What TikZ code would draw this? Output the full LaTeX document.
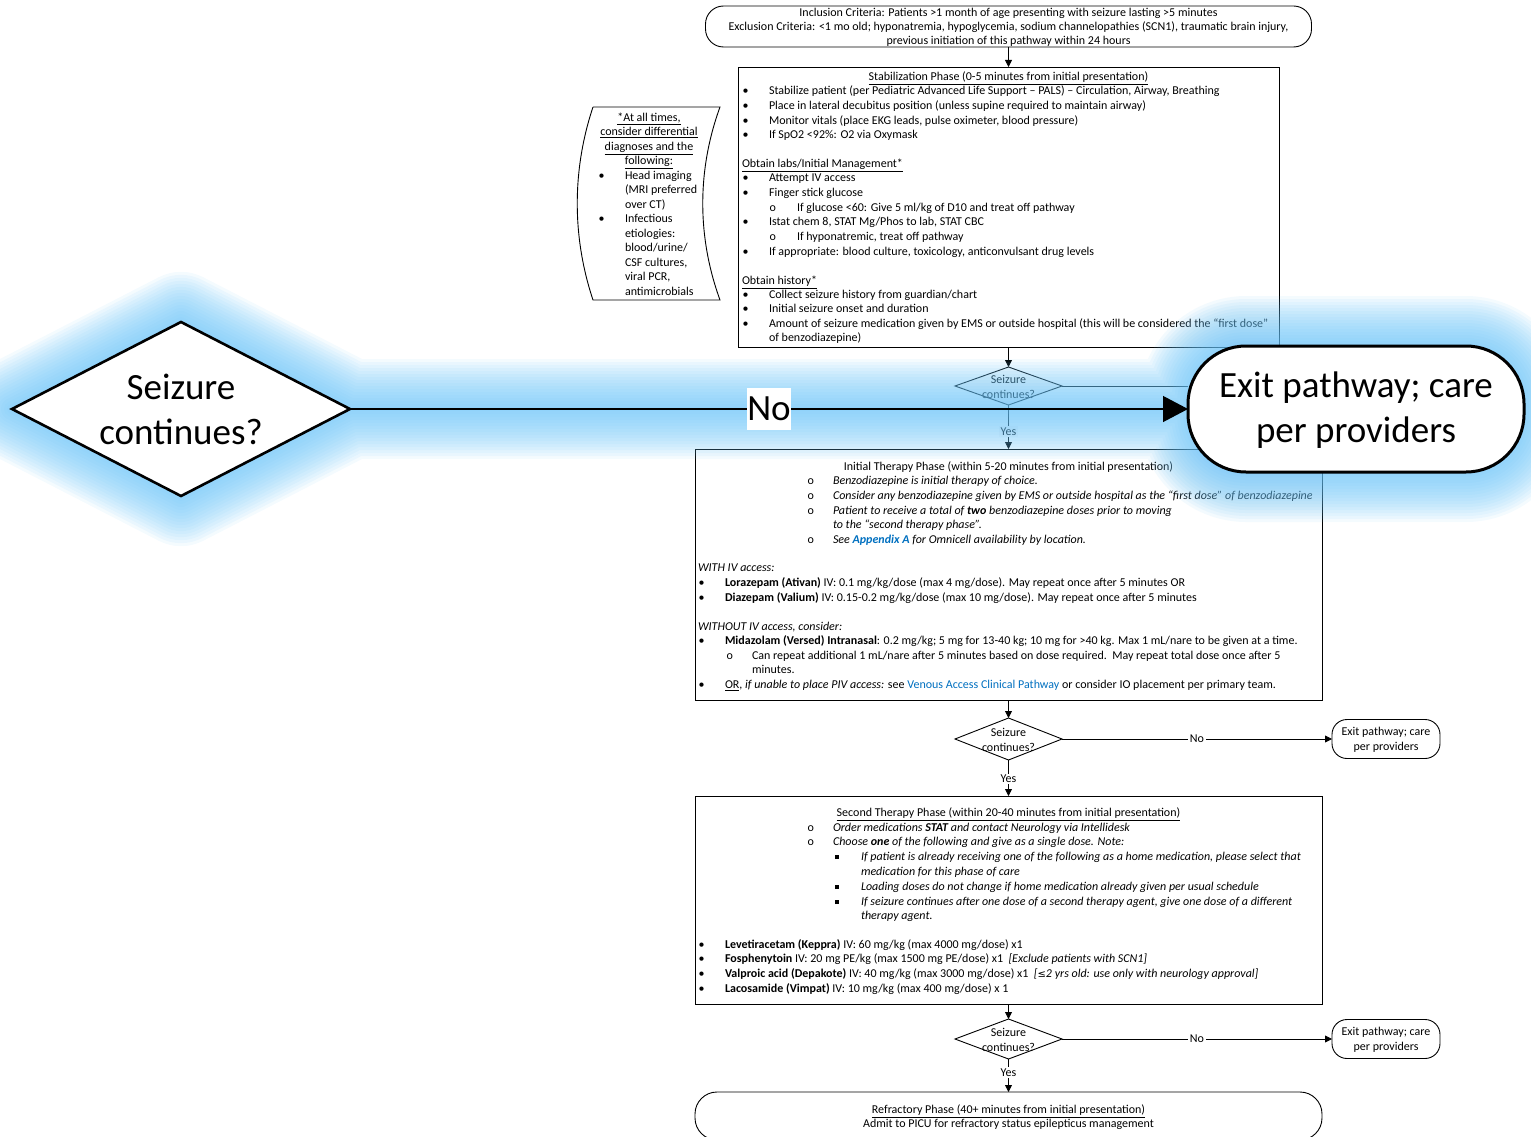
\documentclass[tikz,border=0pt]{standalone}
\usepackage{fontspec}
\setmainfont{Carlito}
\newfontfamily\dvfont{DejaVu Sans}
\usetikzlibrary{shapes.geometric,arrows.meta}
\definecolor{lnk}{RGB}{0,112,192}
\definecolor{glowc}{RGB}{105,195,248}
\pgfdeclarelayer{glowl}
\pgfdeclarelayer{topl}
\pgfsetlayers{main,glowl,topl}
\newcounter{tl}
\newcommand\Tx[3]{\stepcounter{tl}\node[txt] (t\arabic{tl}) at (#1,#2+4.5) {#3};}
\newcommand\Tc[3]{\stepcounter{tl}\node[ctr] (t\arabic{tl}) at (#1,#2+4.5) {#3};}
\newcommand\Bl[4]{\Tx{#1}{#3}{•}\Tx{#2}{#3}{#4}}
\newcommand\Sb[4]{\Tx{#1}{#3}{\upshape o}\Tx{#2}{#3}{#4}}
\newcommand\Sq[4]{\Tx{#1}{#3}{\rule[1.5pt]{4pt}{4pt}}\Tx{#2}{#3}{#4}}
\begin{document}
\begin{tikzpicture}[x=1pt,y=-1pt,
  every node/.style={inner sep=0pt,outer sep=0pt},
  f/.style={font=\fontsize{12}{14.6}\selectfont},
  txt/.style={f,anchor=base west},
  ctr/.style={f,anchor=base},
  mid/.style={f,align=center},
  box/.style={draw=black,line width=0.9pt,fill=white,rectangle},
  rbox/.style={box,rounded corners=#1},
  dia/.style={draw=black,line width=0.9pt,fill=white,diamond,minimum width=107,minimum height=#1},
  ln/.style={draw=black,line width=0.8pt},
  arr/.style={ln,-{Triangle[length=7pt,width=7pt]}},
  lbl/.style={f,fill=white,inner sep=1.5pt},
  big/.style={font=\fontsize{37}{45}\selectfont,align=center}]
\useasboundingbox (0,0) rectangle (1531,1137);

% ---------- base diagram ----------
\node[rbox=18,minimum width=606,minimum height=41] (top) at (1008.5,26.5) {};
\Tc{1008.5}{12.5}{Inclusion Criteria: Patients >1 month of age presenting with seizure lasting >5 minutes}
\Tc{1008.5}{26.5}{Exclusion Criteria: <1 mo old; hyponatremia, hypoglycemia, sodium channelopathies (SCN1), traumatic brain injury,}
\Tc{1008.5}{40.5}{previous initiation of this pathway within 24 hours}

\node[box,minimum width=541,minimum height=280] (stab) at (1008.5,207) {};
\draw[arr] (top) -- (stab);
\Tc{1008.5}{76}{\underline{Stabilization Phase (0-5 minutes from initial presentation)}}
\Bl{742.5}{769}{90}{Stabilize patient (per Pediatric Advanced Life Support – PALS) – Circulation, Airway, Breathing}
\Bl{742.5}{769}{105}{Place in lateral decubitus position (unless supine required to maintain airway)}
\Bl{742.5}{769}{120}{Monitor vitals (place EKG leads, pulse oximeter, blood pressure)}
\Bl{742.5}{769}{134}{If SpO2 <92\%: O2 via Oxymask}
\Tx{742}{163}{\underline{Obtain labs/Initial Management*}}
\Bl{742.5}{769}{177}{Attempt IV access}
\Bl{742.5}{769}{192}{Finger stick glucose}
\Sb{769.5}{797}{207}{If glucose <60: Give 5 ml/kg of D10 and treat off pathway}
\Bl{742.5}{769}{221}{Istat chem 8, STAT Mg/Phos to lab, STAT CBC}
\Sb{769.5}{797}{236}{If hyponatremic, treat off pathway}
\Bl{742.5}{769}{251}{If appropriate: blood culture, toxicology, anticonvulsant drug levels}
\Tx{742}{280}{\underline{Obtain history*}}
\Bl{742.5}{769}{294}{Collect seizure history from guardian/chart}
\Bl{742.5}{769}{308}{Initial seizure onset and duration}
\Bl{742.5}{769}{323}{Amount of seizure medication given by EMS or outside hospital (this will be considered the “first dose”}
\Tx{769}{337}{of benzodiazepine)}

% side note
\draw[line width=0.9pt] (593,107) -- (720,107) .. controls (697,170) and (697,237) .. (720,300) -- (593,300) .. controls (572,237) and (572,170) .. (593,107);
\Tc{649}{117}{\underline{*At all times,}}
\Tc{649}{131}{\underline{consider differential}}
\Tc{649}{146}{\underline{diagnoses and the}}
\Tc{649}{160}{\underline{following:}}
\Bl{598.5}{625}{175}{Head imaging}
\Tx{625}{189}{(MRI preferred}
\Tx{625}{204}{over CT)}
\Bl{598.5}{625}{218}{Infectious}
\Tx{625}{233}{etiologies:}
\Tx{625}{247}{blood/urine/}
\Tx{625}{262}{CSF cultures,}
\Tx{625}{276}{viral PCR,}
\Tx{625}{291}{antimicrobials}

% decision 1
\node[dia=38] (d1) at (1008.5,386) {};
\node[mid] (d1t) at (1008.5,387) {Seizure\\continues?};
\draw[arr] (stab) -- (d1);

% initial therapy
\node[box,minimum width=627,minimum height=251] (init) at (1008.5,574.5) {};
\draw[arr] (d1) -- node[lbl,pos=0.61] (y1) {Yes} (init);
\Tc{1008.5}{466}{Initial Therapy Phase (within 5-20 minutes from initial presentation)}
\Sb{807.5}{833}{480}{\itshape Benzodiazepine is initial therapy of choice.}
\Sb{807.5}{833}{495}{\itshape Consider any benzodiazepine given by EMS or outside hospital as the “first dose” of benzodiazepine}
\Sb{807.5}{833}{510}{\itshape Patient to receive a total of \textbf{two} benzodiazepine doses prior to moving}
\Tx{833}{524}{\itshape to the “second therapy phase”.}
\Sb{807.5}{833}{539}{\itshape See \textcolor{lnk}{\textbf{Appendix A}} for Omnicell availability by location.}
\Tx{698}{567}{\itshape WITH IV access:}
\Bl{698.5}{725}{582}{\textbf{Lorazepam (Ativan)} IV: 0.1 mg/kg/dose (max 4 mg/dose). May repeat once after 5 minutes OR}
\Bl{698.5}{725}{597}{\textbf{Diazepam (Valium)} IV: 0.15-0.2 mg/kg/dose (max 10 mg/dose). May repeat once after 5 minutes}
\Tx{698}{626}{\itshape WITHOUT IV access, consider:}
\Bl{698.5}{725}{640}{\textbf{Midazolam (Versed) Intranasal}: 0.2 mg/kg; 5 mg for 13-40 kg; 10 mg for >40 kg. Max 1 mL/nare to be given at a time.}
\Sb{726.5}{752}{655}{Can repeat additional 1 mL/nare after 5 minutes based on dose required.\ \ May repeat total dose once after 5}
\Tx{752}{669}{minutes.}
\Bl{698.5}{725}{684}{\underline{OR}, \textit{if unable to place PIV access:} see \textcolor{lnk}{Venous Access Clinical Pathway} or consider IO placement per primary team.}

% decision 2
\node[dia=42] (d2) at (1008.5,739) {};
\node[mid] (d2t) at (1008.5,740) {Seizure\\continues?};
\node[rbox=15,minimum width=108,minimum height=39] (e2) at (1386,739) {};
\node[mid] (e2t) at (1386,740) {Exit pathway; care\\per providers};
\draw[arr] (init) -- (d2);
\draw[arr] (d2) -- node[lbl] (n2) {No} (e2);

% second therapy
\node[box,minimum width=627,minimum height=208] (second) at (1008.5,900) {};
\draw[arr] (d2) -- node[lbl,pos=0.53] (y2) {Yes} (second);
\Tc{1008.5}{812}{\underline{Second Therapy Phase (within 20-40 minutes from initial presentation)}}
\Sb{807.5}{833}{827}{\itshape Order medications \textbf{STAT} and contact Neurology via Intellidesk}
\Sb{807.5}{833}{841}{\itshape Choose \textbf{one} of the following and give as a single dose. Note:}
\Sq{835}{861}{856}{\itshape If patient is already receiving one of the following as a home medication, please select that}
\Tx{861}{871}{\itshape medication for this phase of care}
\Sq{835}{861}{886}{\itshape Loading doses do not change if home medication already given per usual schedule}
\Sq{835}{861}{901}{\itshape If seizure continues after one dose of a second therapy agent, give one dose of a different}
\Tx{861}{915}{\itshape therapy agent.}
\Bl{698.5}{725}{944}{\textbf{Levetiracetam (Keppra)} IV: 60 mg/kg (max 4000 mg/dose) x1}
\Bl{698.5}{725}{958}{\textbf{Fosphenytoin} IV: 20 mg PE/kg (max 1500 mg PE/dose) x1\ \ \textit{[Exclude patients with SCN1]}}
\Bl{698.5}{725}{973}{\textbf{Valproic acid (Depakote)} IV: 40 mg/kg (max 3000 mg/dose) x1\ \ \textit{[{\dvfont\fontsize{10}{12}\selectfont ≤}2 yrs old: use only with neurology approval]}}
\Bl{698.5}{725}{988}{\textbf{Lacosamide (Vimpat)} IV: 10 mg/kg (max 400 mg/dose) x 1}

% decision 3
\node[dia=40] (d3) at (1008.5,1039) {};
\node[mid] (d3t) at (1008.5,1040) {Seizure\\continues?};
\node[rbox=15,minimum width=108,minimum height=39] (e3) at (1386,1039) {};
\node[mid] (e3t) at (1386,1040) {Exit pathway; care\\per providers};
\draw[arr] (second) -- (d3);
\draw[arr] (d3) -- node[lbl] (n3) {No} (e3);

% refractory
\node[rbox=22,minimum width=627,minimum height=48] (ref) at (1008.5,1116) {};
\draw[arr] (d3) -- node[lbl,pos=0.42] (y3) {Yes} (ref);
\Tc{1008.5}{1109}{\underline{Refractory Phase (40+ minutes from initial presentation)}}
\Tc{1008.5}{1123}{Admit to PICU for refractory status epilepticus management}

% ---------- glow ----------
\begin{pgfonlayer}{glowl}
\foreach \w in {100,94,...,4}{
  \draw[glowc,line width=\w,opacity=0.075,line join=round,line cap=round]
    (12,409) -- (181,322) -- (350,409) -- (181,496) -- cycle
    (350,409) -- (1188,409)
    (1188,346) [rounded corners=58] rectangle (1524,472);
}
\end{pgfonlayer}

% ---------- highlighted (enlarged) elements ----------
\begin{pgfonlayer}{topl}
\node[draw=black,line width=2.6pt,fill=white,diamond,minimum width=338,minimum height=174] (dbig) at (181,409) {};
\node[big] (dbigt) at (181,409) {Seizure\\continues?};
\node[draw=black,line width=3pt,fill=white,rectangle,rounded corners=58,minimum width=336,minimum height=126] (ebig) at (1356,409) {};
\node[big] (ebigt) at (1356,410) {Exit pathway; care\\per providers};
\draw[line width=1.2pt,-{Triangle[length=25pt,width=26pt]}] (dbig) -- node[fill=white,minimum width=43,minimum height=42,font=\fontsize{37}{45}\selectfont] (nbig) {No} (ebig);
\end{pgfonlayer}
\draw[ln] (d1.east) -- (d1.east -| ebig.west);
\end{tikzpicture}
\end{document}
